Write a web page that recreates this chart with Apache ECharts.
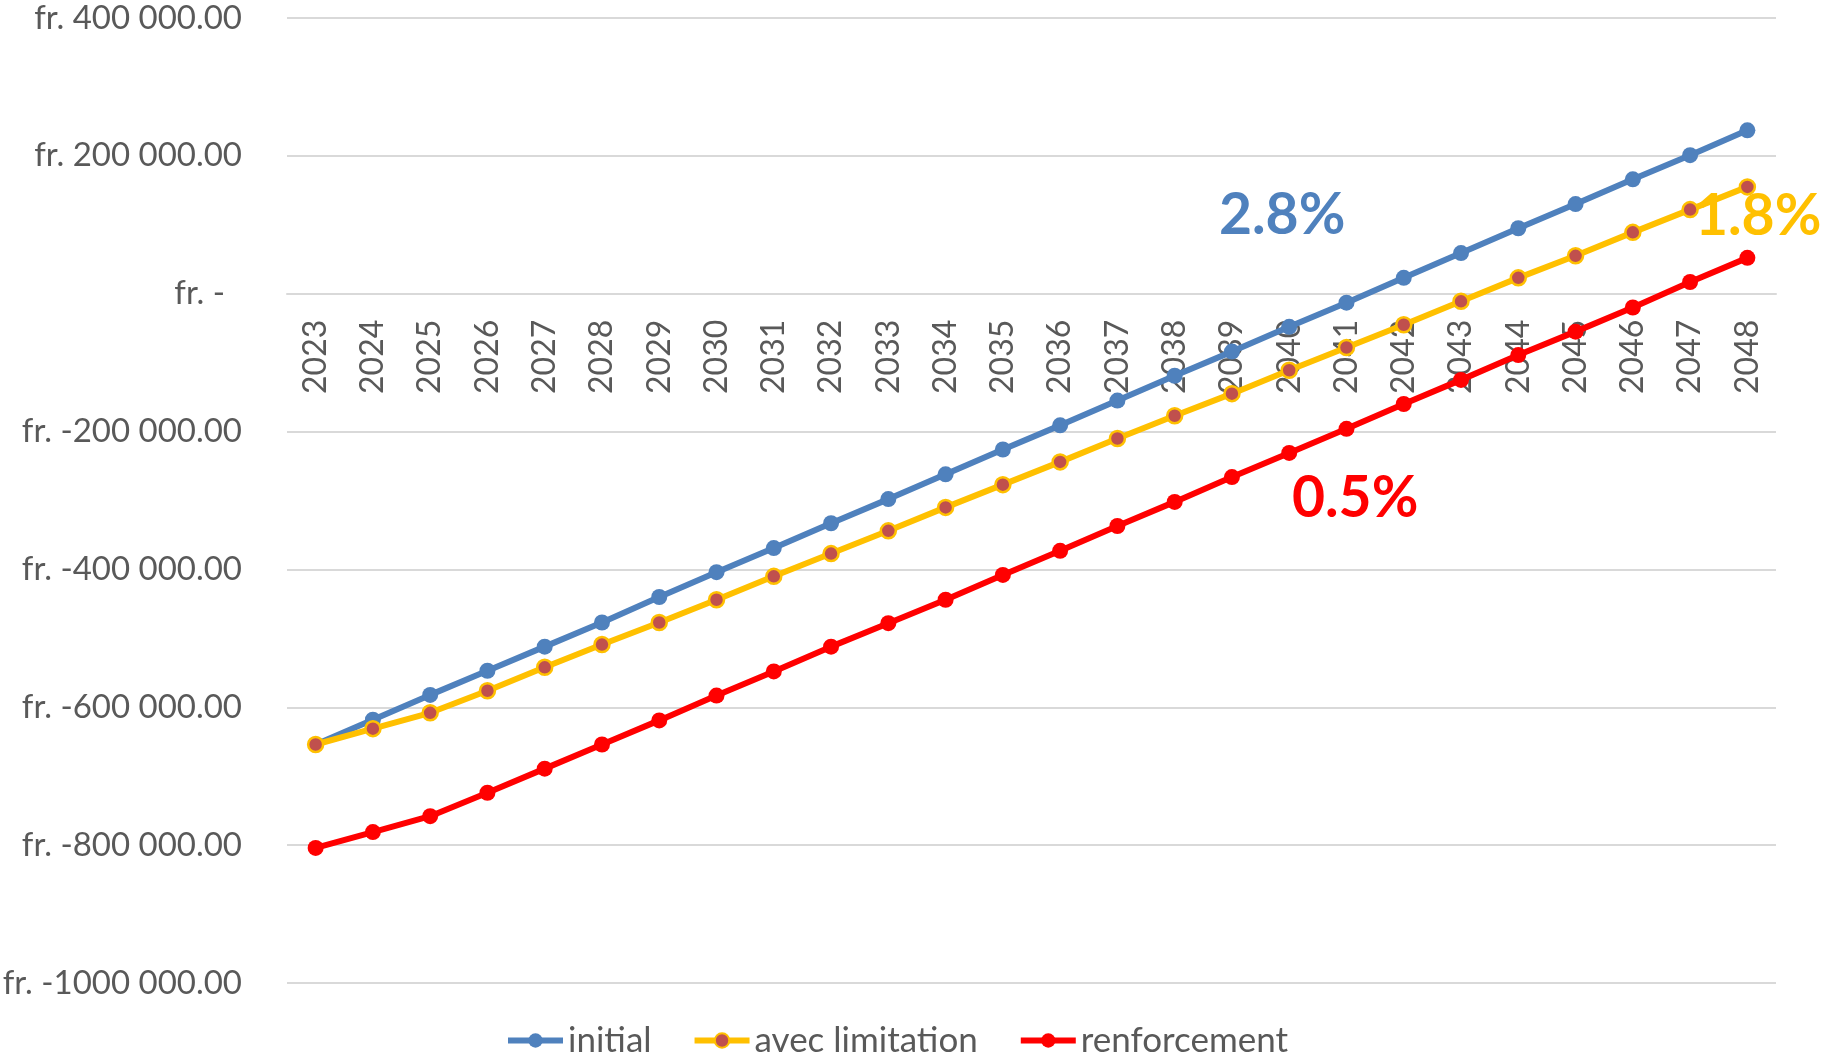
<!DOCTYPE html>
<html>
<head>
<meta charset="utf-8">
<title>initial / avec limitation / renforcement</title>
<script src="https://cdn.jsdelivr.net/npm/echarts@6/dist/echarts.min.js"></script>
<style>
	html, body { margin: 0; padding: 0; background: #fff; }
	#chart { width: 1822px; height: 1059px; }
</style>
</head>
<body>
<div id="chart"></div>
<script>
	// années
	var years = ['2023', '2024', '2025', '2026', '2027', '2028', '2029', '2030', '2031', '2032', '2033', '2034', '2035',
		'2036', '2037', '2038', '2039', '2040', '2041', '2042', '2043', '2044', '2045', '2046', '2047', '2048'];

	var initial = [-654000, -618000, -582000, -547000, -512000, -477000, -440000, -404000, -369000, -333000, -298000, -262000, -226000,
		-191000, -155000, -119000, -84000, -48000, -13000, 23000, 59000, 95000, 130000, 166000, 201000, 237000];

	var avecLimitation = [-654000, -631000, -608000, -576000, -542000, -509000, -477000, -444000, -410000, -377000, -344000, -310000, -277000,
		-244000, -210000, -177000, -145000, -111000, -78000, -45000, -11000, 23000, 55000, 89000, 122000, 155000];

	var renforcement = [-804000, -781000, -758000, -724000, -689000, -654000, -619000, -583000, -548000, -512000, -478000, -444000, -408000,
		-373000, -337000, -302000, -266000, -231000, -196000, -160000, -125000, -89000, -55000, -20000, 17000, 52000];

	var yMin = -1000000, yMax = 400000, yStep = 200000;

	var font = "Lato, 'Open Sans', 'Liberation Sans', sans-serif";

	var gridTop = 18, gridBottom = 76, chartH = 1059;
	// l'axe des années est sur la ligne du zéro
	var plotH = chartH - gridTop - gridBottom;
	var zeroOffset = -plotH * (0 - yMin) / (yMax - yMin);

	function fmtFr(v) {
		if (v === 0) return 'fr. -  ';
		var s = v < 0 ? '-' : '';
		var a = Math.abs(v);
		var k = Math.floor(a / 1000);
		var r = String(a % 1000).padStart(3, '0');
		return 'fr. ' + s + k + ' ' + r + '.00';
	}

	var chart = echarts.init(document.getElementById('chart'));
	var option = {
		animation: false,
		textStyle: { fontFamily: font },
		grid: { left: 287, right: 46, top: gridTop, bottom: gridBottom, outerBoundsMode: 'none', containLabel: false },
		legend: {
			left: 500,
			top: 1018,
			itemWidth: 55,
			itemHeight: 18,
			itemGap: 40,
			lineStyle: { width: 6 },
			textStyle: { fontSize: 35, color: '#595959', fontFamily: font },
			data: ['initial', 'avec limitation', 'renforcement']
		},
		xAxis: {
			type: 'category',
			data: years,
			boundaryGap: true,
			position: 'bottom',
			offset: zeroOffset,
			axisLine: { onZero: false, lineStyle: { color: '#d9d9d9', width: 2 } },
			axisTick: { show: false },
			axisLabel: { rotate: 90, margin: 26, fontSize: 32, color: '#595959', fontFamily: font }
		},
		yAxis: {
			type: 'value',
			min: yMin,
			max: yMax,
			interval: yStep,
			axisLine: { show: false },
			axisTick: { show: false },
			splitLine: { lineStyle: { color: '#d9d9d9', width: 2 } },
			axisLabel: { margin: 45, fontSize: 33, color: '#595959', fontFamily: font, formatter: fmtFr }
		},
		series: [
			{
				name: 'initial',
				type: 'line',
				data: initial,
				symbol: 'circle',
				symbolSize: 16,
				lineStyle: { color: '#4f81bd', width: 6 },
				itemStyle: { color: '#4f81bd' }
			},
			{
				name: 'avec limitation',
				type: 'line',
				data: avecLimitation,
				symbol: 'circle',
				symbolSize: 15,
				lineStyle: { color: '#ffc000', width: 6 },
				itemStyle: { color: '#c0504d', borderColor: '#ffc000', borderWidth: 2.5 }
			},
			{
				name: 'renforcement',
				type: 'line',
				data: renforcement,
				symbol: 'circle',
				symbolSize: 16,
				lineStyle: { color: '#ff0000', width: 6 },
				itemStyle: { color: '#ff0000' }
			}
		],
		graphic: [
			{ type: 'text', z: 1, style: { text: '2.8%', x: 1219, y: 216, verticalAlign: 'middle', fill: '#4f81bd', font: 'bold 57px ' + font } },
			{ type: 'text', z: 1, style: { text: '1.8%', x: 1695, y: 217, verticalAlign: 'middle', fill: '#ffc000', font: 'bold 57px ' + font } },
			{ type: 'text', z: 1, style: { text: '0.5%', x: 1292, y: 499, verticalAlign: 'middle', fill: '#ff0000', font: 'bold 57px ' + font } }
		]
	};
	chart.setOption(option);
</script>
</body>
</html>
